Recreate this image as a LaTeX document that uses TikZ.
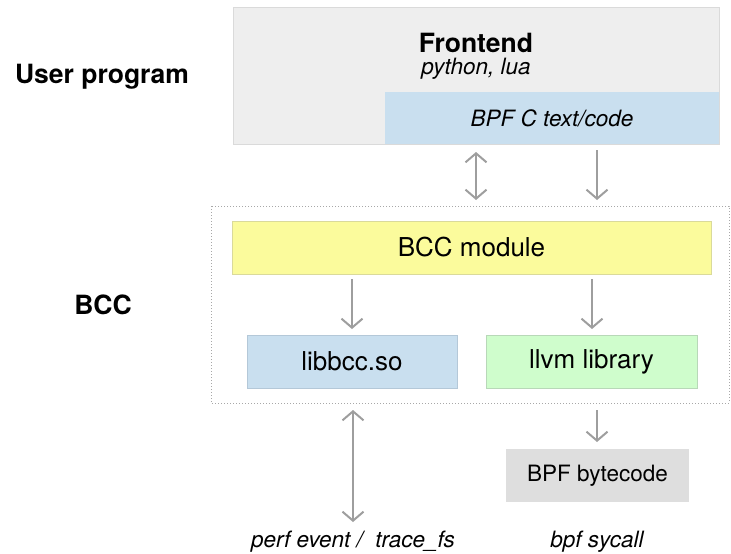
\documentclass[tikz,border=0pt]{standalone}
\usepackage{fontspec}
\setmainfont{TeX Gyre Heros}
\usetikzlibrary{arrows.meta}
\definecolor{frontgray}{HTML}{EEEEEE}
\definecolor{frontedge}{HTML}{DADADA}
\definecolor{bluefill}{HTML}{C9DFEF}
\definecolor{blueedge}{HTML}{B4C8D8}
\definecolor{yellowfill}{HTML}{FBFB9C}
\definecolor{yellowedge}{HTML}{DADA9A}
\definecolor{greenfill}{HTML}{CFFDCC}
\definecolor{greenedge}{HTML}{B8D8B8}
\definecolor{bytefill}{HTML}{DEDEDE}
\definecolor{arrowgray}{HTML}{9E9E9E}
\definecolor{dotgray}{HTML}{A8A8A8}
\begin{document}
\begin{tikzpicture}[x=1pt,y=-1pt,
  box/.style={draw, line width=0.8pt, inner sep=0pt, anchor=center},
  bigtxt/.style={font=\fontsize{26}{30}\selectfont},
  boldtxt/.style={font=\fontsize{26.5}{30}\selectfont\bfseries},
  ittxt/.style={font=\fontsize{22.5}{26}\selectfont\itshape},
  midtxt/.style={font=\fontsize{22.5}{26}\selectfont},
  flow/.style={draw=arrowgray, line width=2pt, -{Straight Barb[length=9pt,width=21pt,line width=2pt]}},
  bothflow/.style={draw=arrowgray, line width=2pt, {Straight Barb[length=9pt,width=21pt,line width=2pt]}-{Straight Barb[length=9pt,width=21pt,line width=2pt]}}
]
\useasboundingbox (0,0) rectangle (731,554);

% Frontend
\node[box, draw=frontedge, fill=frontgray, minimum width=486pt, minimum height=137pt] (front) at (476,75.5) {};
\node[box, draw=none, fill=bluefill, minimum width=334pt, minimum height=52pt, ittxt] (bpfc) at (552,118) {BPF C text/code};
\node[boldtxt, anchor=base] (ftitle) at (476,52) {Frontend};
\node[ittxt, anchor=base] (fsub) at (476,74) {python, lua};

% left labels
\node[boldtxt, anchor=base] (user) at (102,83) {User program};
\node[boldtxt, anchor=base] (bcclbl) at (103,314) {BCC};

% BCC frame
\draw[dotgray, dotted, line width=1pt] (211,206) rectangle (729,403);
\coordinate (frametopA) at (476,200);
\coordinate (frametopB) at (597,200);

% BCC boxes
\node[box, draw=yellowedge, fill=yellowfill, minimum width=479pt, minimum height=53pt, bigtxt] (bccmod) at (471.5,247.5) {BCC module};
\node[box, draw=blueedge, fill=bluefill, minimum width=210pt, minimum height=53pt, bigtxt] (libbcc) at (352,361.5) {libbcc.so};
\node[box, draw=greenedge, fill=greenfill, minimum width=211pt, minimum height=53pt, bigtxt] (llvm) at (591.5,361.5) {llvm library};
\node[box, draw=none, fill=bytefill, minimum width=183pt, minimum height=53pt, midtxt] (bytecode) at (597.5,475.5) {BPF bytecode};

% bottom labels
\node[ittxt, anchor=base] (perf) at (353,547) {perf event /\ \ trace\_fs};
\node[ittxt, anchor=base] (sys) at (597,547) {bpf sycall};

% arrows
\coordinate (a1s) at (476,152);
\coordinate (a2s) at (597,150);
\draw[bothflow] (a1s) -- (frametopA);
\draw[flow] (a2s) -- (frametopB);
\draw[flow] (352,279) -- (352,329);
\draw[flow] (592,279) -- (592,329);
\coordinate (b1s) at (353,410);
\coordinate (b1e) at (353,522);
\draw[bothflow] (b1s) -- (b1e);
\coordinate (b2s) at (597,410);
\draw[flow] (b2s) -- (597,442);
\end{tikzpicture}
\end{document}
